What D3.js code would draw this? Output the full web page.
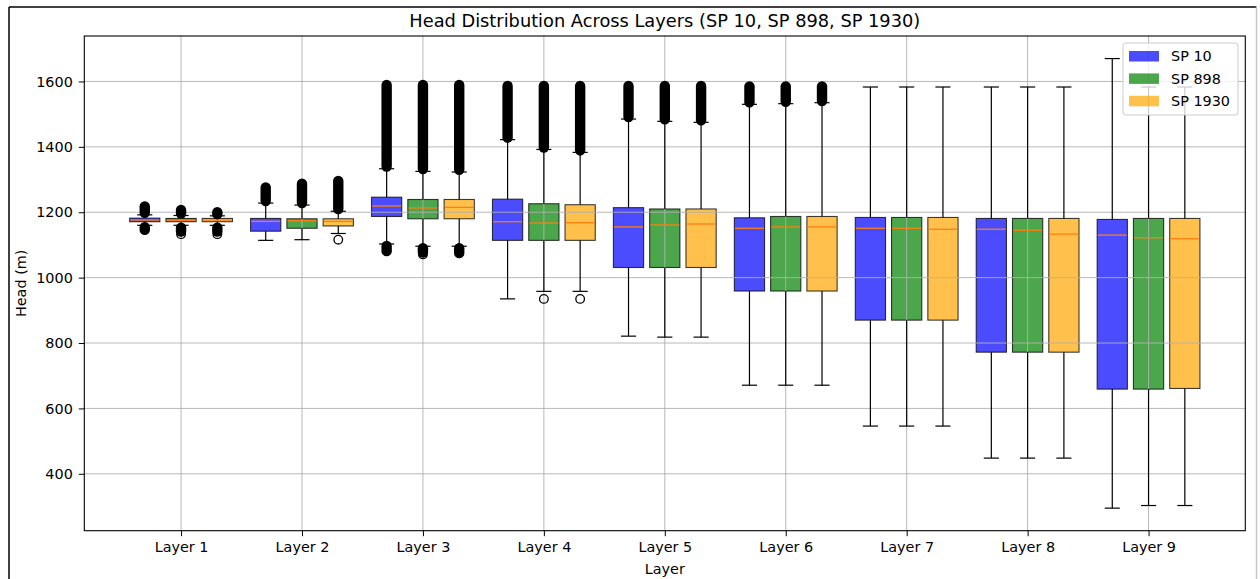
<!DOCTYPE html>
<html>
<head>
<meta charset="utf-8">
<script src="https://cdn.jsdelivr.net/npm/d3@7"></script>
<style>
  html, body { margin: 0; padding: 0; background: #fff; }
  svg { display: block; font-family: "DejaVu Sans", sans-serif; }
</style>
</head>
<body>
<svg id="chart" width="1260" height="579"></svg>
<script>
// Layers on the x axis and the three stress periods compared in each layer
const layers = ["Layer 1", "Layer 2", "Layer 3", "Layer 4", "Layer 5", "Layer 6", "Layer 7", "Layer 8", "Layer 9"];
const seriesNames = ["SP 10", "SP 898", "SP 1930"];
const seriesColors = ["blue", "green", "orange"];
const yTicks = [400, 600, 800, 1000, 1200, 1400, 1600];

// Box statistics per series (rows: SP 10, SP 898, SP 1930; columns: layers 1..9), head in m
const q1 = [
  [1171, 1142, 1187, 1114, 1031, 959, 870, 772, 659],
  [1171, 1151, 1180, 1114, 1031, 959, 870, 772, 659],
  [1171, 1158, 1180, 1114, 1031, 959, 870, 772, 661]
];
const median = [
  [1176, 1172, 1219, 1171, 1155, 1151, 1151, 1148, 1130],
  [1175, 1174, 1213, 1167, 1161, 1155, 1151, 1145, 1122],
  [1176, 1172, 1215, 1168, 1164, 1155, 1148, 1133, 1119]
];
const q3 = [
  [1182, 1181, 1246, 1240, 1214, 1183, 1184, 1181, 1178],
  [1181, 1180, 1239, 1226, 1210, 1187, 1184, 1181, 1181],
  [1181, 1180, 1239, 1223, 1210, 1187, 1184, 1181, 1181]
];
const whiskerLow = [
  [1160, 1114, 1103, 935, 821, 671, 546, 448, 295],
  [1160, 1116, 1096, 958, 818, 671, 546, 448, 303],
  [1160, 1135, 1096, 958, 818, 671, 546, 448, 303]
];
const whiskerHigh = [
  [1192, 1228, 1333, 1422, 1485, 1530, 1583, 1583, 1670],
  [1190, 1222, 1325, 1392, 1478, 1532, 1583, 1583, 1583],
  [1189, 1203, 1323, 1383, 1475, 1535, 1583, 1583, 1583]
];

// Span of the densely packed outliers above / below the whiskers (null = none)
const denseHigh = [
  [[1198, 1218], [1234, 1276], [1340, 1589], [1428, 1586], [1491, 1586], [1536, 1585], null, null, null],
  [[1196, 1207], [1228, 1287], [1332, 1589], [1398, 1586], [1484, 1586], [1538, 1585], null, null, null],
  [[1194, 1200], [1210, 1296], [1330, 1589], [1389, 1586], [1481, 1586], [1540, 1585], null, null, null]
];
const denseLow = [
  [[1146, 1154], null, [1081, 1097], null, null, null, null, null, null],
  [[1141, 1153], null, [1077, 1090], null, null, null, null, null, null],
  [[1141, 1153], null, [1075, 1090], null, null, null, null, null, null]
];
// Isolated outliers: [series index, layer index, head]
const outliers = [
  [1, 0, 1133], [2, 0, 1133],
  [2, 1, 1116],
  [1, 2, 1071],
  [1, 3, 935], [2, 3, 935]
];

const W = 1260, H = 579;
const margin = { left: 84.3, right: 1245.3, top: 36, bottom: 530.7 };
const FONT = 14.4;
const svg = d3.select("#chart");

// Outer figure frame
svg.append("line").attr("x1", 9).attr("y1", 7).attr("x2", 9).attr("y2", H).attr("stroke", "#000").attr("stroke-width", 1.5);
svg.append("line").attr("x1", 9).attr("y1", 7).attr("x2", 1256.5).attr("y2", 7).attr("stroke", "#000").attr("stroke-width", 1.5);
svg.append("line").attr("x1", 1256.5).attr("y1", 7).attr("x2", 1256.5).attr("y2", H).attr("stroke", "#c8c8c8").attr("stroke-width", 1.5);

const x = d3.scaleLinear().domain([0.2, 9.8]).range([margin.left, margin.right]);
const y = d3.scaleLinear().domain([226, 1739]).range([margin.bottom, margin.top]);

const offsets = [-0.3, 0, 0.3];
const boxW = 0.25;
const capW = boxW / 2;

// Boxes
const gBoxes = svg.append("g");
seriesNames.forEach((name, s) => {
  layers.forEach((lab, i) => {
    const cx = i + 1 + offsets[s];
    gBoxes.append("rect")
      .attr("x", x(cx - boxW / 2))
      .attr("y", y(q3[s][i]))
      .attr("width", x(cx + boxW / 2) - x(cx - boxW / 2))
      .attr("height", y(q1[s][i]) - y(q3[s][i]))
      .attr("fill", seriesColors[s])
      .attr("fill-opacity", 0.7)
      .attr("stroke", "#000")
      .attr("stroke-opacity", 0.75)
      .attr("stroke-width", 1.1);
  });
});

// Grid lines
const gGrid = svg.append("g");
yTicks.forEach(t => {
  gGrid.append("line").attr("x1", margin.left).attr("x2", margin.right)
    .attr("y1", y(t)).attr("y2", y(t)).attr("stroke", "#b0b0b0").attr("stroke-width", 0.9);
});
layers.forEach((lab, i) => {
  gGrid.append("line").attr("x1", x(i + 1)).attr("x2", x(i + 1))
    .attr("y1", margin.top).attr("y2", margin.bottom).attr("stroke", "#b0b0b0").attr("stroke-width", 0.9);
});

// Whiskers, caps, medians and outliers
const gLines = svg.append("g");
seriesNames.forEach((name, s) => {
  layers.forEach((lab, i) => {
    const cx = i + 1 + offsets[s];
    const px = x(cx);
    gLines.append("line").attr("x1", px).attr("x2", px)
      .attr("y1", y(q1[s][i])).attr("y2", y(whiskerLow[s][i]))
      .attr("stroke", "#000").attr("stroke-width", 1.2);
    gLines.append("line").attr("x1", px).attr("x2", px)
      .attr("y1", y(q3[s][i])).attr("y2", y(whiskerHigh[s][i]))
      .attr("stroke", "#000").attr("stroke-width", 1.2);
    [whiskerLow[s][i], whiskerHigh[s][i]].forEach(v => {
      gLines.append("line")
        .attr("x1", x(cx - capW / 2)).attr("x2", x(cx + capW / 2))
        .attr("y1", y(v)).attr("y2", y(v))
        .attr("stroke", "#000").attr("stroke-width", 1.2);
    });
    gLines.append("line")
      .attr("x1", x(cx - boxW / 2) + 0.6).attr("x2", x(cx + boxW / 2) - 0.6)
      .attr("y1", y(median[s][i])).attr("y2", y(median[s][i]))
      .attr("stroke", "#ff7f0e").attr("stroke-width", 1.3);
    [denseHigh[s][i], denseLow[s][i]].forEach(span => {
      if (!span) return;
      gLines.append("line").attr("x1", px).attr("x2", px)
        .attr("y1", y(span[0])).attr("y2", y(span[1]))
        .attr("stroke", "#000").attr("stroke-width", 10.4)
        .attr("stroke-linecap", "round");
    });
  });
});
outliers.forEach(([s, i, v]) => {
  gLines.append("circle")
    .attr("cx", x(i + 1 + offsets[s])).attr("cy", y(v)).attr("r", 4.3)
    .attr("fill", "none").attr("stroke", "#000").attr("stroke-width", 1.3);
});

// Axes
const yAxis = d3.axisLeft(y).tickValues(yTicks).tickSize(5.5).tickPadding(6).tickFormat(d3.format("d"));
const gy = svg.append("g").attr("transform", `translate(${margin.left},0)`).call(yAxis);
const xAxis = d3.axisBottom(x).tickValues(d3.range(1, 10)).tickSize(5.5).tickPadding(6).tickFormat((d) => layers[d - 1]);
const gx = svg.append("g").attr("transform", `translate(0,${margin.bottom})`).call(xAxis);
[gx, gy].forEach(g => {
  g.select(".domain").remove();
  g.selectAll("text").attr("font-size", FONT).attr("fill", "#000").attr("font-family", "DejaVu Sans, sans-serif");
  g.selectAll("line").attr("stroke", "#000").attr("stroke-width", 1);
});

// Axes frame
svg.append("rect").attr("x", margin.left).attr("y", margin.top)
  .attr("width", margin.right - margin.left).attr("height", margin.bottom - margin.top)
  .attr("fill", "none").attr("stroke", "#000").attr("stroke-width", 1.1);

// Title and axis labels
svg.append("text").attr("x", (margin.left + margin.right) / 2).attr("y", 27)
  .attr("text-anchor", "middle").attr("font-size", 17.8).attr("fill", "#000")
  .text("Head Distribution Across Layers (SP 10, SP 898, SP 1930)");
svg.append("text").attr("x", (margin.left + margin.right) / 2).attr("y", 574)
  .attr("text-anchor", "middle").attr("font-size", FONT).attr("fill", "#000")
  .text("Layer");
svg.append("text").attr("transform", `translate(26,${(margin.top + margin.bottom) / 2}) rotate(-90)`)
  .attr("text-anchor", "middle").attr("font-size", FONT).attr("fill", "#000")
  .text("Head (m)");

// Legend
const lg = svg.append("g");
lg.append("rect").attr("x", 1123).attr("y", 43).attr("width", 115).attr("height", 72)
  .attr("rx", 3).attr("fill", "#fff").attr("fill-opacity", 0.8)
  .attr("stroke", "#cccccc").attr("stroke-width", 1);
seriesNames.forEach((name, s) => {
  const cy = 56 + s * 22.4;
  lg.append("rect").attr("x", 1129).attr("y", cy - 5).attr("width", 30).attr("height", 10.5)
    .attr("fill", seriesColors[s]).attr("fill-opacity", 0.7);
  lg.append("text").attr("x", 1171).attr("y", cy + 5.2).attr("font-size", FONT).attr("fill", "#000").text(name);
});
</script>
</body>
</html>
